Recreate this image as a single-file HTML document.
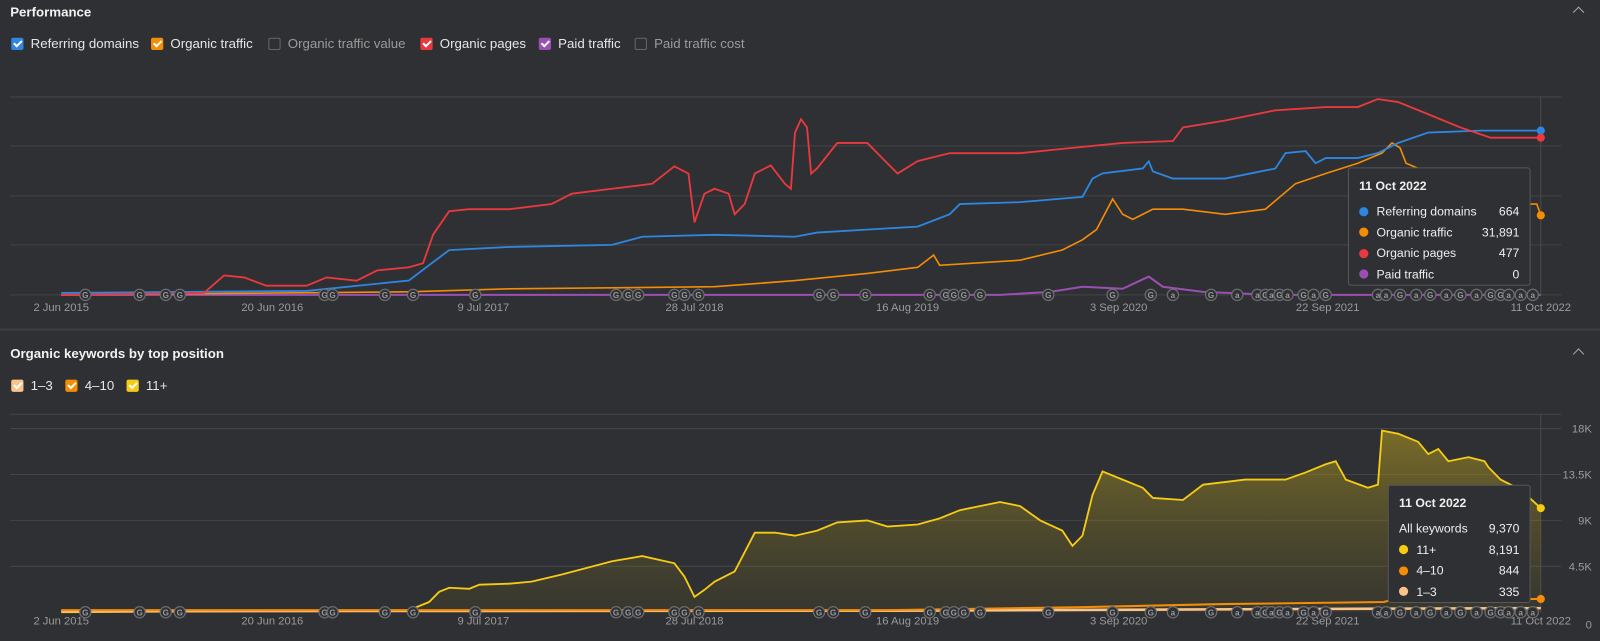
<!DOCTYPE html>
<html><head><meta charset="utf-8">
<style>
html,body{margin:0;padding:0;background:#2f3033;overflow:hidden;width:1600px;height:641px}
#wrap{position:absolute;left:0;top:0;width:1568px;height:628px;transform:scale(1.0204);transform-origin:0 0;font-family:"Liberation Sans",sans-serif;color:#e8e8e8}
.title{position:absolute;left:10px;font-weight:bold;font-size:13px;color:#f2f2f2}
.chev{position:absolute;left:1543px;width:7px;height:7px;border-left:1.5px solid #aaa;border-top:1.5px solid #aaa;transform:rotate(45deg)}
.leg{position:absolute;display:flex;align-items:center;font-size:13px;color:#e6e6e6}
.box{width:12px;height:12px;border-radius:2px;margin-right:7px;position:relative;box-sizing:border-box}
.box.on::after{content:"";position:absolute;left:3.5px;top:1px;width:3px;height:6px;border-right:2px solid #fff;border-bottom:2px solid #fff;transform:rotate(45deg)}
.box.off{border:1px solid #666}
.dim{color:#9a9a9a}
.sep{position:absolute;left:0;top:322px;width:1568px;height:2px;background:#3d3e42}
.tip{position:absolute;background:#2f3033;border:1px solid #56575b;border-radius:3px;font-size:12px;color:#eee;box-sizing:border-box;padding:10px 10px}
.tip .h{font-weight:bold;margin-bottom:8px}
.tip .r{display:flex;align-items:center;height:20.5px}
.tip .d{width:9px;height:9px;border-radius:50%;margin-right:8px}
.tip .v{margin-left:auto}
svg{position:absolute;left:0;top:0}
</style></head><body>
<div id="wrap">
<div class="title" style="top:4px">Performance</div>
<div class="chev" style="top:8px"></div>
<div class="leg" style="left:11px;top:35px"><div class="box on" style="background:#2f86e0"></div>Referring domains</div>
<div class="leg" style="left:148px;top:35px"><div class="box on" style="background:#f48c06"></div>Organic traffic</div>
<div class="leg dim" style="left:263px;top:35px"><div class="box off"></div>Organic traffic value</div>
<div class="leg" style="left:412px;top:35px"><div class="box on" style="background:#e9393e"></div>Organic pages</div>
<div class="leg" style="left:528px;top:35px"><div class="box on" style="background:#9b4fb4"></div>Paid traffic</div>
<div class="leg dim" style="left:622px;top:35px"><div class="box off"></div>Paid traffic cost</div>
<div class="sep"></div>
<div class="title" style="top:339px">Organic keywords by top position</div>
<div class="chev" style="top:343px"></div>
<div class="leg" style="left:11px;top:370px"><div class="box on" style="background:#f8c48a"></div>1–3</div>
<div class="leg" style="left:64px;top:370px"><div class="box on" style="background:#f48c06"></div>4–10</div>
<div class="leg" style="left:124px;top:370px"><div class="box on" style="background:#f6cb13"></div>11+</div>
<svg id="chart" width="1568" height="628"></svg>
<div class="tip" style="left:1321px;top:164px;width:179px;height:116px">
<div class="h">11 Oct 2022</div>
<div class="r"><div class="d" style="background:#2f86e0"></div>Referring domains<span class="v">664</span></div>
<div class="r"><div class="d" style="background:#f48c06"></div>Organic traffic<span class="v">31,891</span></div>
<div class="r"><div class="d" style="background:#e9393e"></div>Organic pages<span class="v">477</span></div>
<div class="r"><div class="d" style="background:#9b4fb4"></div>Paid traffic<span class="v">0</span></div>
</div>
<div class="tip" style="left:1360px;top:475px;width:140px;height:116px">
<div class="h">11 Oct 2022</div>
<div class="r">All keywords<span class="v">9,370</span></div>
<div class="r"><div class="d" style="background:#f6cb13"></div>11+<span class="v">8,191</span></div>
<div class="r"><div class="d" style="background:#f48c06"></div>4–10<span class="v">844</span></div>
<div class="r"><div class="d" style="background:#f8c48a"></div>1–3<span class="v">335</span></div>
</div>
</div>
<script>
// ---- data ----
const dateTicks = ["2 Jun 2015","20 Jun 2016","9 Jul 2017","28 Jul 2018","16 Aug 2019","3 Sep 2020","22 Sep 2021","11 Oct 2022"];
const dateTickYears = [2015.42,2016.47,2017.52,2018.57,2019.63,2020.68,2021.72,2022.78];
const pagesT = [2015.42,2016.13,2016.23,2016.33,2016.44,2016.64,2016.74,2016.89,2016.99,2017.15,2017.22,2017.27,2017.35,2017.45,2017.65,2017.86,2017.96,2018.16,2018.36,2018.47,2018.54,2018.57,2018.62,2018.67,2018.74,2018.77,2018.82,2018.87,2018.95,2019.02,2019.05,2019.07,2019.10,2019.13,2019.15,2019.18,2019.28,2019.43,2019.53,2019.58,2019.68,2019.84,2020.19,2020.45,2020.70,2020.95,2021.00,2021.21,2021.46,2021.71,2021.87,2021.97,2022.07,2022.22,2022.38,2022.53,2022.78];
const pagesV = [0,6,59,53,28,28,53,43,74,84,96,183,254,260,260,276,307,322,337,390,368,220,307,322,307,245,276,368,393,337,322,492,533,508,368,384,461,461,399,368,406,430,430,446,461,467,508,529,560,570,570,594,585,548,508,477,477];
const domainsT = [2015.42,2016.64,2017.15,2017.25,2017.35,2017.65,2018.16,2018.31,2018.67,2019.07,2019.18,2019.68,2019.84,2019.89,2020.19,2020.50,2020.55,2020.60,2020.80,2020.83,2020.85,2020.95,2021.21,2021.46,2021.51,2021.61,2021.66,2021.71,2021.87,2021.97,2022.07,2022.22,2022.48,2022.78];
const domainsV = [8,16,58,120,181,194,202,235,243,235,252,276,326,367,375,396,470,491,511,540,499,470,470,511,573,581,532,553,553,573,614,656,664,664];
const trafficT = [2015.42,2017.15,2017.65,2018.67,2019.07,2019.43,2019.68,2019.76,2019.79,2020.19,2020.40,2020.50,2020.57,2020.65,2020.70,2020.75,2020.85,2021.00,2021.21,2021.41,2021.56,2021.71,2021.87,2021.99,2022.04,2022.08,2022.11,2022.17,2022.22,2022.42,2022.73,2022.76,2022.78];
const trafficV = [0,1227,2453,3271,5725,8587,11040,15947,11858,13902,17990,22080,26170,38437,32303,30259,34348,34348,32303,34348,44570,48660,52748,56837,60926,58882,52748,50704,50704,40480,36392,36392,31891];
const paidT = [2015.42,2020.09,2020.34,2020.50,2020.70,2020.83,2020.90,2021.10,2021.46,2022.78];
const paidV = [0,0,3,8,6,18,8,3,0,0];
const kwT = [2015.42,2017.15,2017.25,2017.30,2017.35,2017.45,2017.50,2017.65,2017.76,2017.91,2018.16,2018.31,2018.47,2018.52,2018.57,2018.62,2018.67,2018.77,2018.87,2018.97,2019.07,2019.18,2019.28,2019.43,2019.53,2019.68,2019.79,2019.89,2020.09,2020.19,2020.29,2020.40,2020.45,2020.50,2020.55,2020.60,2020.70,2020.80,2020.85,2021.00,2021.10,2021.31,2021.51,2021.61,2021.71,2021.76,2021.81,2021.92,2021.97,2021.99,2022.07,2022.17,2022.22,2022.27,2022.32,2022.42,2022.50,2022.52,2022.58,2022.68,2022.78];
const kw11V = [0,200,1000,2000,2400,2300,2700,2800,3000,3700,5000,5500,4800,3500,1500,2200,3000,4000,7800,7800,7500,8000,8800,9000,8400,8600,9200,10000,10800,10400,9000,8000,6500,7500,11500,13800,13000,12200,11200,11000,12500,13000,13000,13700,14500,14800,13000,12200,12500,17800,17500,16700,15500,16000,14800,15200,14800,14200,13000,12000,10200];
const kw410T = [2015.42,2019.50,2020.50,2021.20,2022.00,2022.05,2022.78];
const kw410V = [200,200,500,800,1000,1300,1300];
const kw13T = [2015.42,2019.50,2020.80,2022.00,2022.78];
const kw13V = [100,150,250,350,400];
const kwTicks = ["0","4.5K","9K","13.5K","18K"];
const kwTickV = [0,4500,9000,13500,18000];
const annotT = [2015.54,2015.81,2015.94,2016.01,2016.73,2016.77,2017.03,2017.17,2017.48,2018.18,2018.24,2018.29,2018.47,2018.52,2018.59,2019.19,2019.26,2019.42,2019.74,2019.82,2019.86,2019.91,2019.99,2020.33,2020.65,2020.84,2020.95,2021.14,2021.27,2021.37,2021.41,2021.44,2021.48,2021.52,2021.60,2021.65,2021.71,2021.97,2022.01,2022.08,2022.16,2022.23,2022.31,2022.38,2022.46,2022.53,2022.58,2022.62,2022.68,2022.74];
const annotL = "GGGGGGGGGGGGGGGGGGGGGGGGGGaGaaGaGaGaGaaGaGaGaGGaaa";

// ---- scales ----
const NS="http://www.w3.org/2000/svg";
const svg=document.getElementById('chart');
const X0=60,X1=1510,T0=2015.42,T1=2022.78;
const x=t=>X0+(t-T0)/(T1-T0)*(X1-X0);
const topBase=289, botBase=600;
const yPages=v=>topBase-v*0.323;
const yDom=v=>topBase-v*0.2425;
const yTraf=v=>topBase-v/408.9;
const yPaid=v=>topBase-v*1.0;
const yKw=v=>botBase-v*0.01;
function el(tag,attrs,parent){const e=document.createElementNS(NS,tag);for(const k in attrs)e.setAttribute(k,attrs[k]);(parent||svg).appendChild(e);return e;}
function pts(T,V,fy){return T.map((t,i)=>x(t).toFixed(1)+','+fy(V[i]).toFixed(1)).join(' ');}

// gradient
const defs=el('defs',{});
const lg=el('linearGradient',{id:'yg',x1:0,y1:0,x2:0,y2:1},defs);
el('stop',{offset:'0','stop-color':'#b8a020','stop-opacity':'0.55'},lg);
el('stop',{offset:'1','stop-color':'#6a6020','stop-opacity':'0.15'},lg);

// gridlines
[95,143,192,240].forEach(gy=>{const g=el('line',{x1:10,x2:1530,y1:gy,y2:gy,stroke:'#434447','stroke-width':1});

});
el('line',{x1:10,x2:1530,y1:topBase,y2:topBase,stroke:'#434447'});
el('line',{x1:10,x2:1530,y1:406,y2:406,stroke:'#434447'});
kwTickV.forEach((v,i)=>{
 const gy=yKw(v);
 if(v>0){const g=el('line',{x1:10,x2:1530,y1:gy,y2:gy,stroke:'#434447'});
 
 }
 const tx=el('text',{x:1560,y:gy+(v===0?16:4),'text-anchor':'end','font-size':11,fill:'#9a9a9a','font-family':'Liberation Sans, sans-serif'});
 tx.textContent=kwTicks[i];
 
 
});
// hover lines
el('line',{x1:X1,x2:X1,y1:95,y2:topBase,stroke:'#4a4b4f'});
el('line',{x1:X1,x2:X1,y1:406,y2:botBase,stroke:'#4a4b4f'});

// date ticks
dateTickYears.forEach((t,i)=>{
 [305,612].forEach(ty=>{
  const tx=el('text',{x:x(t),y:ty,'text-anchor':'middle','font-size':11,fill:'#9a9a9a','font-family':'Liberation Sans, sans-serif'});
  tx.textContent=dateTicks[i];
  
  
 });
});

// top series
const paid=el('polyline',{points:pts(paidT,paidV,yPaid),fill:'none',stroke:'#9b4fb4','stroke-width':2});


const traf=el('polyline',{points:pts(trafficT,trafficV,yTraf),fill:'none',stroke:'#f48c06','stroke-width':1.6});


const dom=el('polyline',{points:pts(domainsT,domainsV,yDom),fill:'none',stroke:'#2f86e0','stroke-width':1.8});


const pages=el('polyline',{points:pts(pagesT,pagesV,yPages),fill:'none',stroke:'#e9393e','stroke-width':1.8});



// bottom series
const area=el('polygon',{points:x(kwT[0])+','+botBase+' '+pts(kwT,kw11V,yKw)+' '+x(kwT[kwT.length-1])+','+botBase,fill:'url(#yg)'});


const k11=el('polyline',{points:pts(kwT,kw11V,yKw),fill:'none',stroke:'#f6cb13','stroke-width':1.8});


const k13=el('polyline',{points:pts(kw13T,kw13V,yKw),fill:'none',stroke:'#f8c48a','stroke-width':2.5});


const k410=el('polyline',{points:pts(kw410T,kw410V,yKw),fill:'none',stroke:'#f48c06','stroke-width':2});



// annotation markers
annotT.forEach((t,i)=>{
 [topBase,botBase].forEach(by=>{
  const g=el('g',{});
  
  
  el('circle',{cx:x(t),cy:by,r:5.5,fill:'#2f3033',stroke:'#6c6d70','stroke-width':1.2},g);
  const tx=el('text',{x:x(t),y:by+3,'text-anchor':'middle','font-size':8,'font-weight':'bold',fill:'#9a9a9a','font-family':'Liberation Sans, sans-serif'},g);
  tx.textContent=annotL[i]||'G';
 });
});

// end dots
function dot(cx,cy,c,n){const d=el('circle',{cx:cx,cy:cy,r:4,fill:c});

}
const L=a=>a[a.length-1];
dot(x(L(domainsT)),yDom(L(domainsV)),'#2f86e0','referring-domains-end-dot');
dot(x(L(pagesT)),yPages(L(pagesV)),'#e9393e','organic-pages-end-dot');
dot(x(L(trafficT)),yTraf(L(trafficV)),'#f48c06','organic-traffic-end-dot');
dot(x(L(kwT)),yKw(L(kw11V)),'#f6cb13','keywords-11-plus-end-dot');
dot(x(L(kw410T)),yKw(L(kw410V)),'#f48c06','keywords-4-10-end-dot');
</script>
</body></html>
